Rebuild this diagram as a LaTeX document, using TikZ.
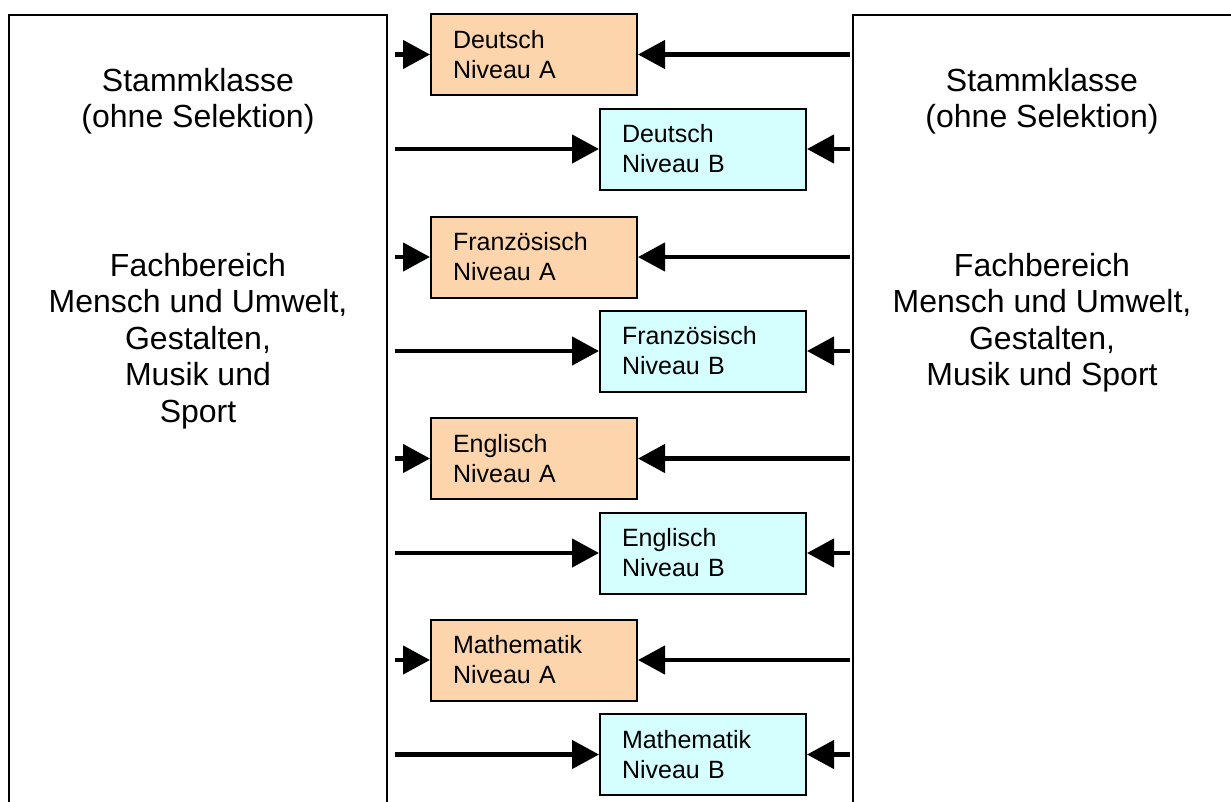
\documentclass[tikz,border=0pt]{standalone}
\usepackage{fontspec}
\setmainfont{Liberation Sans}
\usetikzlibrary{arrows.meta}
\definecolor{peach}{RGB}{252,213,172}
\definecolor{ice}{RGB}{213,255,255}
\begin{document}
\begin{tikzpicture}[x=1pt,y=-1pt,
  frame/.style={draw=black,line width=2.5pt},
  lvl/.style={draw=black,line width=2pt,anchor=west,minimum height=81pt,
    text width=162pt,inner xsep=22pt,inner ysep=0pt,align=left,
    font=\fontsize{25}{30}\selectfont},
  lvA/.style={lvl,fill=peach},
  lvB/.style={lvl,fill=ice},
  big/.style={anchor=north,align=center,inner sep=0pt,
    font=\fontsize{32}{36.5}\selectfont},
  arr/.style={draw=black,line width=4.5pt,
    -{Triangle[length=27pt,width=28pt]}}]
\useasboundingbox (0,0) rectangle (1231,801);
% outer frames (open at the bottom)
\draw[frame] (9,815) -- (9,15) -- (387,15) -- (387,815);
\draw[frame] (853,815) -- (853,15) -- (1245,15);
\coordinate (lx) at (395,0);
\coordinate (rx) at (850,0);
% side texts
\node[big] (sL) at (198,68) {Stammklasse\\(ohne Selektion)};
\node[big] (fL) at (198,253) {Fachbereich\\Mensch und Umwelt,\\Gestalten,\\Musik und\\Sport};
\node[big] (sR) at (1042,68) {Stammklasse\\(ohne Selektion)};
\node[big] (fR) at (1042,253) {Fachbereich\\Mensch und Umwelt,\\Gestalten,\\Musik und Sport};
% level boxes
\node[lvA] (dA) at (430,54.5) {Deutsch\\Niveau A};
\node[lvB] (dB) at (599,149) {Deutsch\\Niveau B};
\node[lvA] (fA) at (430,257) {Französisch\\Niveau A};
\node[lvB] (fB) at (599,351) {Französisch\\Niveau B};
\node[lvA] (eA) at (430,458.5) {Englisch\\Niveau A};
\node[lvB] (eB) at (599,553) {Englisch\\Niveau B};
\node[lvA] (mA) at (430,660) {Mathematik\\Niveau A};
\node[lvB] (mB) at (599,754.5) {Mathematik\\Niveau B};
% connectors
\foreach \n in {dA,dB,fA,fB,eA,eB,mA,mB}{
  \draw[arr] (\n.west -| lx) -- (\n.west);
  \draw[arr] (\n.east -| rx) -- (\n.east);
}
\end{tikzpicture}
\end{document}
